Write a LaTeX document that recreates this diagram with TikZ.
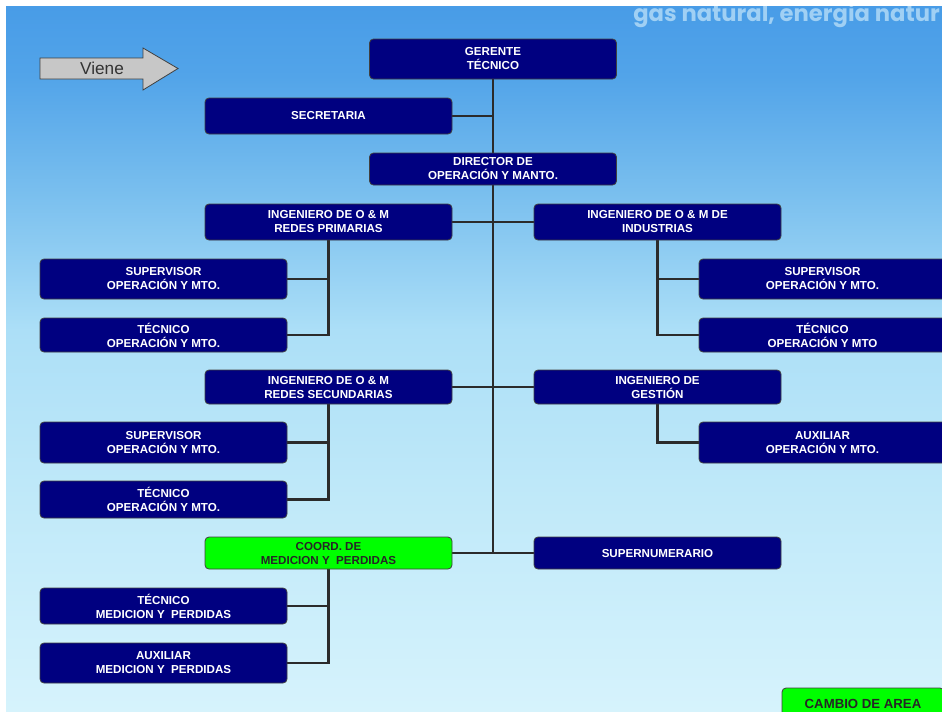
\documentclass[tikz,border=0pt]{standalone}
\usepackage{fontspec}
\setmainfont{Liberation Sans}
\newfontfamily\brandfont{Poppins}
\usetikzlibrary{calc}
\definecolor{navyb}{RGB}{0,0,128}
\definecolor{greenb}{RGB}{0,255,0}
\definecolor{linec}{RGB}{43,43,43}
\definecolor{skyA}{RGB}{214,243,252}
\definecolor{skyB}{RGB}{192,233,249}
\definecolor{skyC}{RGB}{172,223,247}
\definecolor{skyD}{RGB}{120,190,238}
\definecolor{skyE}{RGB}{82,164,233}
\definecolor{skyF}{RGB}{72,156,231}
\definecolor{brandc}{RGB}{160,208,244}
\pgfdeclareverticalshading{skybg}{100bp}{color(0bp)=(skyA); color(25bp)=(skyA); color(40bp)=(skyB); color(52bp)=(skyC); color(62bp)=(skyD); color(70bp)=(skyE); color(75bp)=(skyF); color(100bp)=(skyF)}
\pgfdeclarelayer{bg}
\pgfdeclarelayer{lines}
\pgfsetlayers{bg,lines,main}
\tikzset{
  box/.style={rounded corners=3pt, fill=navyb, draw=black!75, line width=0.6pt,
    text=white, font=\bfseries\fontsize{8.7}{10.5}\selectfont, align=center,
    minimum width=185.25pt, inner sep=0pt},
  gbox/.style={box, fill=greenb, text=black!85},
  conn/.style={draw=linec, line width=2.1pt},
}
\begin{document}
\begin{tikzpicture}[x=0.75pt,y=-0.75pt]
\useasboundingbox (0,0) rectangle (942,711);
\begin{pgfonlayer}{bg}
  \fill[white] (0,0) rectangle (942,711);
  \shade[shading=skybg] (6,6) rectangle (942,711);
  \begin{scope}
    \clip (6,6) rectangle (942,711);
    \node[anchor=base west, text=brandc, font=\brandfont\bfseries\fontsize{17}{20}\selectfont, inner sep=0pt] (brand) at (633,21) {gas natural, energia natur};
  \end{scope}
\end{pgfonlayer}

% Viene arrow
\draw[fill=black!22, draw=black!75, line width=0.6pt] (40,58) -- (143,58) -- (143,48) -- (178,68.5) -- (143,90) -- (143,79) -- (40,79) -- cycle;
\node[font=\fontsize{12.9}{14}\selectfont, text=black!80, inner sep=0pt] (viene) at (102,68.5) {Viene};

\begin{scope}
\clip (6,6) rectangle (942,711);
\node[box, minimum height=30pt] (ger) at (493,59) {GERENTE\\TÉCNICO};
\node[box, minimum height=27pt] (sec) at (328.5,116) {SECRETARIA};
\node[box, minimum height=24pt] (dir) at (493,169) {DIRECTOR DE\\OPERACIÓN Y MANTO.};
\node[box, minimum height=27pt] (ip) at (328.5,222) {INGENIERO DE O \& M\\REDES PRIMARIAS};
\node[box, minimum height=27pt] (ii) at (657.5,222) {INGENIERO DE O \& M DE\\INDUSTRIAS};
\node[box, minimum height=30pt] (sl1) at (163.5,279) {SUPERVISOR\\OPERACIÓN Y MTO.};
\node[box, minimum height=25.5pt] (tl1) at (163.5,335) {TÉCNICO\\OPERACIÓN Y MTO.};
\node[box, minimum height=30pt] (sr1) at (822.5,279) {SUPERVISOR\\OPERACIÓN Y MTO.};
\node[box, minimum height=25.5pt] (tr1) at (822.5,335) {TÉCNICO\\OPERACIÓN Y MTO};
\node[box, minimum height=25.5pt] (is) at (328.5,387) {INGENIERO DE O \& M\\REDES SECUNDARIAS};
\node[box, minimum height=25.5pt] (ig) at (657.5,387) {INGENIERO DE\\GESTIÓN};
\node[box, minimum height=30.75pt] (sl2) at (163.5,442.5) {SUPERVISOR\\OPERACIÓN Y MTO.};
\node[box, minimum height=27.75pt] (tl2) at (163.5,499.5) {TÉCNICO\\OPERACIÓN Y MTO.};
\node[box, minimum height=30.75pt] (ar2) at (822.5,442.5) {AUXILIAR\\OPERACIÓN Y MTO.};
\node[gbox, minimum height=24pt] (co) at (328.5,553) {COORD. DE\\MEDICION Y~ PERDIDAS};
\node[box, minimum height=24pt] (sn) at (657.5,553) {SUPERNUMERARIO};
\node[box, minimum height=27pt] (tm) at (163.5,606) {TÉCNICO\\MEDICION Y~ PERDIDAS};
\node[box, minimum height=30pt] (am) at (163.5,663) {AUXILIAR\\MEDICION Y~ PERDIDAS};
\node[gbox, minimum width=121.5pt, minimum height=24pt, font=\bfseries\fontsize{9.9}{12}\selectfont] (ca) at (863,704) {CAMBIO DE AREA};
\end{scope}

\begin{pgfonlayer}{lines}
  \coordinate (jend) at (ger.south |- co.east);
  \draw[conn] (ger.south) -- (jend);
  \draw[conn] (sec.east) -- (sec.east -| ger.south);
  \draw[conn] (ip.east) -- (ii.west);
  \draw[conn] (is.east) -- (ig.west);
  \draw[conn] (co.east) -- (sn.west);
  % primarias
  \draw[conn] (ip.south) |- (tl1.east);
  \draw[conn] (sl1.east) -- (sl1.east -| ip.south);
  % industrias
  \draw[conn] (ii.south) |- (tr1.west);
  \draw[conn] (sr1.west) -- (sr1.west -| ii.south);
  % secundarias
  \draw[conn] (is.south) |- (tl2.east);
  \draw[conn] (sl2.east) -- (sl2.east -| is.south);
  % gestion
  \draw[conn] (ig.south) |- (ar2.west);
  % coord
  \draw[conn] (co.south) |- (am.east);
  \draw[conn] (tm.east) -- (tm.east -| co.south);
\end{pgfonlayer}
\end{tikzpicture}
\end{document}
